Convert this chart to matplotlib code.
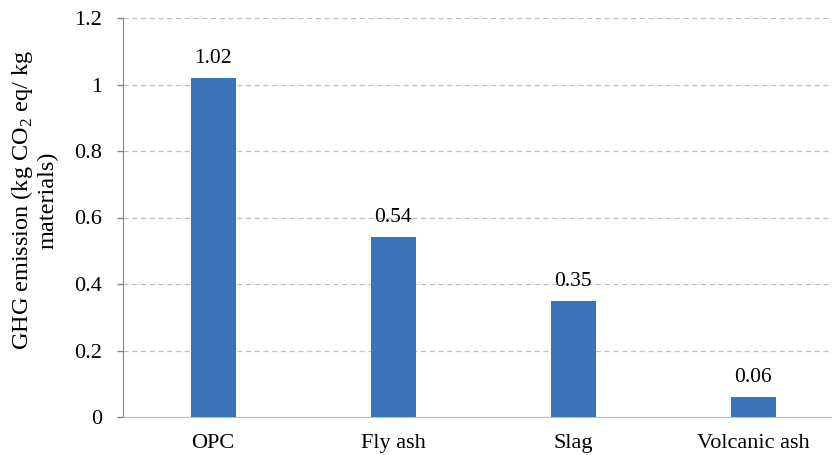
import matplotlib
matplotlib.use("Agg")
import matplotlib.pyplot as plt

materials = ["OPC", "Fly ash", "Slag", "Volcanic ash"]
ghg = [1.02, 0.54, 0.35, 0.06]
labels = ["1.02", "0.54", "0.35", "0.06"]
yticks = [0, 0.2, 0.4, 0.6, 0.8, 1.0, 1.2]
ytick_labels = ["0", "0.2", "0.4", "0.6", "0.8", "1", "1.2"]

plt.rcParams["font.family"] = ["Liberation Serif", "DejaVu Serif"]
plt.rcParams["mathtext.fontset"] = "custom"
plt.rcParams["mathtext.rm"] = "Liberation Serif"

fig = plt.figure(figsize=(8.32, 4.55), dpi=100)
# right edge of the plot area is cut off in the original picture
ax = fig.add_axes([123 / 832, 1 - 417 / 455, 720 / 832, 399 / 455])

x = range(len(materials))
ax.bar(x, ghg, width=0.25, color="#3A73B8", zorder=3)
for xi, v, t in zip(x, ghg, labels):
    ax.text(xi, v + 0.03, t, ha="center", va="bottom", fontsize=15.5)

ax.set_xlim(-0.5, len(materials) - 0.5)
ax.set_ylim(0, 1.2)
ax.set_yticks(yticks)
ax.set_yticklabels(ytick_labels, fontsize=16)
ax.set_xticks(list(x))
ax.set_xticklabels(materials, fontsize=16)
ax.tick_params(axis="x", length=0, pad=12.5)
ax.tick_params(axis="y", length=4.5, color="#868686", pad=10.5, width=1)

ax.grid(axis="y", linestyle=(0, (4, 3)), color="#BFBFBF", linewidth=0.9, zorder=0)
for s in ["top", "right"]:
    ax.spines[s].set_visible(False)
ax.spines["left"].set_color("#868686")
ax.spines["bottom"].set_color("#BFBFBF")

fig.text(34 / 832, 1 - 200 / 455, "GHG emission (kg CO$_\\mathrm{2}$ eq/ kg\nmaterials)",
         rotation=90, ha="center", va="center", fontsize=17.5, linespacing=1.15)

fig.savefig("out.png", dpi=100)
